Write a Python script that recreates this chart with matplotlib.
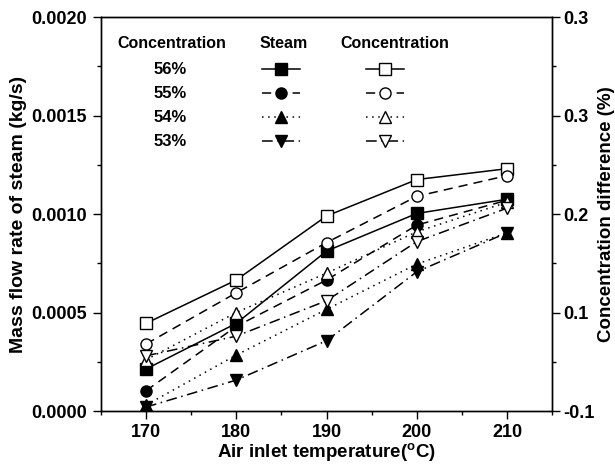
import matplotlib
matplotlib.use('Agg')
import matplotlib.pyplot as plt
from matplotlib.ticker import MultipleLocator, FixedLocator, FixedFormatter
import numpy as np

plt.rcParams['font.family'] = ['Liberation Sans', 'DejaVu Sans']
plt.rcParams['font.weight'] = 'bold'

# Air inlet temperature (deg C)
temps = [170, 180, 190, 200, 210]
conc_labels = ['56%', '55%', '54%', '53%']

# Mass flow rate of steam (kg/s), left axis
steam_56 = [0.000213, 0.000445, 0.000812, 0.001003, 0.001075]
steam_55 = [0.000103, 0.000430, 0.000665, 0.000944, 0.001070]
steam_54 = [0.000030, 0.000284, 0.000516, 0.000746, 0.000905]
steam_53 = [0.000020, 0.000157, 0.000357, 0.000707, 0.000905]

# Concentration difference (%), right axis
cdiff_56 = [-0.011, 0.033, 0.098, 0.135, 0.146]
cdiff_55 = [-0.032, 0.020, 0.071, 0.118, 0.139]
cdiff_54 = [-0.048, 0.000, 0.040, 0.082, 0.112]
cdiff_53 = [-0.044, -0.024, 0.012, 0.072, 0.106]

# right axis tick labels as printed on the original
right_ticks = [-0.1, 0.0, 0.1, 0.2, 0.3]
right_ticklabels = ['-0.1', '0.1', '0.2', '0.3', '0.3']

steam = [steam_56, steam_55, steam_54, steam_53]
cdiff = [cdiff_56, cdiff_55, cdiff_54, cdiff_53]
styles = ['-', (0, (6, 4)), (0, (1, 3)), (0, (7, 3, 1, 3))]
markers = ['s', 'o', '^', 'v']

fig = plt.figure(figsize=(6.15, 4.7), dpi=100)
ax = fig.add_axes([0.164, 0.1255, 0.734, 0.8383])
ax2 = ax.twinx()

for s, ls, m in zip(steam, styles, markers):
    ax.plot(temps, s, linestyle=ls, color='black', lw=1.1, marker=m,
            ms=8, mfc='black', mec='black', zorder=3)
for c, ls, m in zip(cdiff, styles, markers):
    ax2.plot(temps, c, linestyle=ls, color='black', lw=1.1, marker=m,
             ms=8, mfc='white', mec='black', mew=1.0, zorder=3)

ax.set_xlim(165, 215)
ax.set_ylim(0, 0.002)
ax2.set_ylim(-0.1, 0.3)

ax.xaxis.set_major_locator(MultipleLocator(10))
ax.xaxis.set_minor_locator(MultipleLocator(5))
ax.yaxis.set_major_locator(MultipleLocator(0.0005))
ax.yaxis.set_minor_locator(MultipleLocator(0.00025))
ax.yaxis.set_major_formatter(matplotlib.ticker.FormatStrFormatter('%.4f'))
ax2.yaxis.set_major_locator(FixedLocator(right_ticks))
ax2.yaxis.set_major_formatter(FixedFormatter(right_ticklabels))
ax2.yaxis.set_minor_locator(MultipleLocator(0.05))

for a in (ax, ax2):
    a.tick_params(which='major', direction='out', length=6, width=1, labelsize=13)
    a.tick_params(which='minor', direction='out', length=3, width=1)
    for sp in a.spines.values():
        sp.set_linewidth(1)
ax.tick_params(top=False, which='both')
ax.tick_params(axis='y', which='major', pad=4)
ax2.tick_params(which='major', pad=2)

ax.set_xlabel('Air inlet temperature($^\\mathregular{o}$C)', fontsize=13.5,
              fontweight='bold', labelpad=0)
ax.set_ylabel('Mass flow rate of steam (kg/s)', fontsize=14, fontweight='bold',
              labelpad=3)
ax2.set_ylabel('Concentration difference (%)', fontsize=13.5, fontweight='bold',
               labelpad=2)

# table-style legend
hdr_y = 0.934
row_y = [0.868, 0.807, 0.746, 0.685]
ax.text(0.157, hdr_y, 'Concentration', transform=ax.transAxes, ha='center',
        va='center', fontsize=11.5, fontweight='bold')
ax.text(0.406, hdr_y, 'Steam', transform=ax.transAxes, ha='center',
        va='center', fontsize=11.5, fontweight='bold')
ax.text(0.652, hdr_y, 'Concentration', transform=ax.transAxes, ha='center',
        va='center', fontsize=11.5, fontweight='bold')
for lab, y, ls, m in zip(conc_labels, row_y, styles, markers):
    ax.text(0.153, y, lab, transform=ax.transAxes, ha='center', va='center',
            fontsize=12, fontweight='bold')
    ax.plot([0.357, 0.441], [y, y], transform=ax.transAxes, color='black',
            lw=1.1, linestyle=ls, clip_on=False)
    ax.plot([0.399], [y], transform=ax.transAxes, marker=m, ms=8,
            mfc='black', mec='black', clip_on=False)
    ax.plot([0.588, 0.672], [y, y], transform=ax.transAxes, color='black',
            lw=1.1, linestyle=ls, clip_on=False)
    ax.plot([0.630], [y], transform=ax.transAxes, marker=m, ms=8,
            mfc='white', mec='black', clip_on=False)

fig.savefig('out.png', dpi=100)
